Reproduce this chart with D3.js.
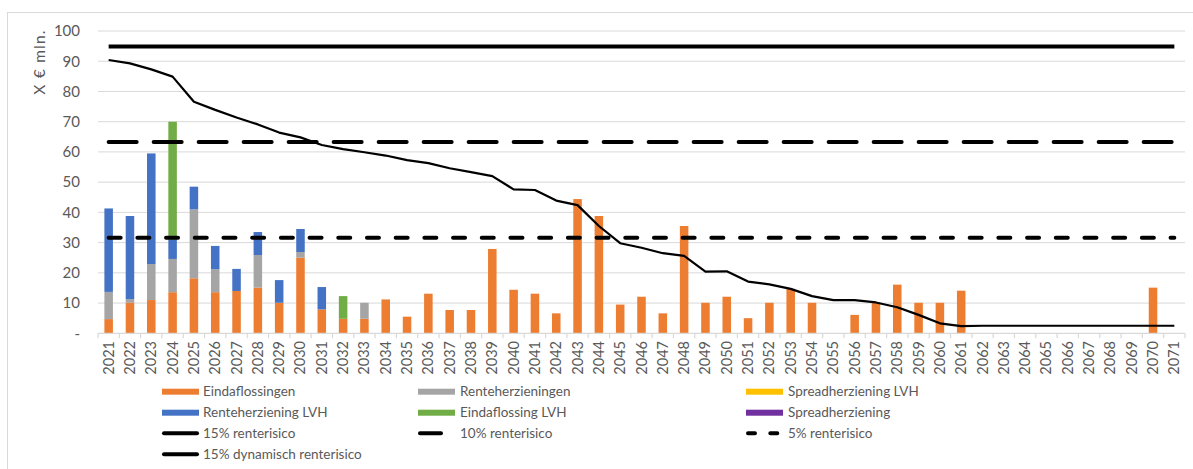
<!DOCTYPE html>
<html>
<head>
<meta charset="utf-8">
<script src="https://cdn.jsdelivr.net/npm/d3@7"></script>
<style>
  body { margin: 0; background: #fff; }
  svg { display: block; }
  text { font-family: Lato, "Open Sans", sans-serif; fill: #595959; }
</style>
</head>
<body>
<svg id="chart" width="1193" height="469"></svg>
<script>
// Categories (years on the x-axis).
const years = d3.range(2021, 2072);

// Stacked bar series, € mln. per year.
const eindaflossingen = [4.7, 10.1, 11.0, 13.6, 18.2, 13.6, 14.0, 15.1, 10.1, 25.0,
  7.9, 4.8, 4.8, 11.2, 5.5, 13.1, 7.7, 7.7, 27.9, 14.4,
  13.1, 6.6, 44.4, 38.8, 9.5, 12.1, 6.6, 35.5, 10.1, 12.1,
  5.0, 10.1, 14.7, 10.1, 0, 6.1, 10.1, 16.1, 10.1, 10.1,
  14.1, 0, 0, 0, 0, 0, 0, 0, 0, 15.1, 0];
const renteherzieningen = [9.0, 1.2, 11.9, 11.0, 22.8, 7.6, 0, 10.8, 0, 1.9,
  0, 0, 5.3, 0, 0, 0, 0, 0, 0, 0,
  0, 0, 0, 0, 0, 0, 0, 0, 0, 0,
  0, 0, 0, 0, 0, 0, 0, 0, 0, 0,
  0, 0, 0, 0, 0, 0, 0, 0, 0, 0, 0];
const spreadherzieningLVH = years.map(() => 0);
const renteherzieningLVH = [27.6, 27.5, 36.6, 6.5, 7.5, 7.7, 7.3, 7.6, 7.5, 7.6,
  7.4, 0, 0, 0, 0, 0, 0, 0, 0, 0,
  0, 0, 0, 0, 0, 0, 0, 0, 0, 0,
  0, 0, 0, 0, 0, 0, 0, 0, 0, 0,
  0, 0, 0, 0, 0, 0, 0, 0, 0, 0, 0];
const eindaflossingLVH = [0, 0, 0, 38.9, 0, 0, 0, 0, 0, 0,
  0, 7.5, 0, 0, 0, 0, 0, 0, 0, 0,
  0, 0, 0, 0, 0, 0, 0, 0, 0, 0,
  0, 0, 0, 0, 0, 0, 0, 0, 0, 0,
  0, 0, 0, 0, 0, 0, 0, 0, 0, 0, 0];
const spreadherziening = years.map(() => 0);

// Risk limit lines.
const risico15 = 94.9;
const risico10 = 63.3;
const risico5 = 31.6;
const dynamisch15 = [90.4, 89.3, 87.3, 84.9, 76.6, 73.9, 71.4, 69.1, 66.4, 64.8,
  62.3, 60.9, 59.9, 58.8, 57.3, 56.3, 54.6, 53.3, 52.0, 47.6,
  47.4, 43.9, 42.4, 35.5, 29.8, 28.3, 26.5, 25.6, 20.4, 20.5,
  17.1, 16.2, 14.7, 12.3, 11.0, 11.0, 10.2, 8.6, 6.1, 3.3,
  2.4, 2.5, 2.5, 2.5, 2.5, 2.5, 2.5, 2.5, 2.5, 2.5, 2.5];

// Y tick labels.
const yTicks = [0, 10, 20, 30, 40, 50, 60, 70, 80, 90, 100];

const barSeries = [
  { name: "Eindaflossingen", values: eindaflossingen, color: "#ED7D31" },
  { name: "Renteherzieningen", values: renteherzieningen, color: "#A5A5A5" },
  { name: "Spreadherziening LVH", values: spreadherzieningLVH, color: "#FFC000" },
  { name: "Renteherziening LVH", values: renteherzieningLVH, color: "#4472C4" },
  { name: "Eindaflossing LVH", values: eindaflossingLVH, color: "#70AD47" },
  { name: "Spreadherziening", values: spreadherziening, color: "#7030A0" }
];

const svg = d3.select("#chart");

// Chart frame (only top and left edges are in view).
svg.append("rect")
  .attr("x", 7.5).attr("y", 12.5)
  .attr("width", 1300).attr("height", 600)
  .attr("fill", "none").attr("stroke", "#d9d9d9");

const x = d3.scaleBand().domain(years).range([98, 1185]).paddingInner(0.6).paddingOuter(0.3);
const xc = d => x(d) + x.bandwidth() / 2;
const y = d3.scaleLinear().domain([0, 100]).range([333.3, 31]);

// Gridlines.
svg.append("g")
  .selectAll("line")
  .data(yTicks.filter(t => t > 0))
  .join("line")
  .attr("x1", 98).attr("x2", 1185)
  .attr("y1", d => y(d)).attr("y2", d => y(d))
  .attr("stroke", "#d9d9d9").attr("stroke-width", 1);

// Y axis labels.
const yAxis = svg.append("g")
  .attr("transform", "translate(88,0)")
  .call(d3.axisLeft(y).tickValues(yTicks).tickSize(0).tickPadding(8)
    .tickFormat(d => d === 0 ? "-" : d));
yAxis.select(".domain").remove();
yAxis.selectAll("text").style("font-size", "15px").attr("fill", "#595959")
  .style("font-family", "Lato, sans-serif");

// Y title.
svg.append("text")
  .attr("transform", "translate(45,62) rotate(-90)")
  .attr("text-anchor", "middle")
  .style("font-size", "15.5px")
  .style("letter-spacing", "1.2px")
  .text("X € mln.");

// Stacked bars.
const table = years.map((yr, i) => {
  const row = { year: yr };
  barSeries.forEach(s => { row[s.name] = s.values[i]; });
  return row;
});
const stacked = d3.stack().keys(barSeries.map(s => s.name))(table);

svg.append("g")
  .selectAll("g")
  .data(stacked)
  .join("g")
  .attr("fill", (d, i) => barSeries[i].color)
  .selectAll("rect")
  .data(d => d.filter(p => p[1] - p[0] > 0))
  .join("rect")
  .attr("x", d => x(d.data.year))
  .attr("width", x.bandwidth())
  .attr("y", d => y(d[1]))
  .attr("height", d => y(d[0]) - y(d[1]));

// X axis: baseline, ticks between categories, rotated labels.
const xAxisG = svg.append("g");
xAxisG.append("line")
  .attr("x1", 98).attr("x2", 1185)
  .attr("y1", y(0)).attr("y2", y(0))
  .attr("stroke", "#d9d9d9").attr("stroke-width", 1.2);
const step = x.step();
xAxisG.selectAll("line.tick")
  .data(d3.range(years.length + 1))
  .join("line")
  .attr("class", "tick")
  .attr("x1", i => 98 + i * step).attr("x2", i => 98 + i * step)
  .attr("y1", y(0)).attr("y2", y(0) + 5)
  .attr("stroke", "#d9d9d9").attr("stroke-width", 1.2);
xAxisG.selectAll("text")
  .data(years)
  .join("text")
  .attr("transform", d => `translate(${xc(d) + 5},341) rotate(-90)`)
  .attr("text-anchor", "end")
  .style("font-size", "14.5px")
  .text(d => d);

// Lines.
const lineGen = d3.line().x((d, i) => xc(years[i])).y(d => y(d));
const constLine = v => years.map(() => v);

svg.append("path")
  .datum(constLine(risico15))
  .attr("d", lineGen)
  .attr("fill", "none").attr("stroke", "#000").attr("stroke-width", 4);

svg.append("path")
  .datum(constLine(risico10))
  .attr("d", lineGen)
  .attr("fill", "none").attr("stroke", "#000").attr("stroke-width", 4)
  .attr("stroke-linecap", "round").attr("stroke-dasharray", "28,17");

svg.append("path")
  .datum(constLine(risico5))
  .attr("d", lineGen)
  .attr("fill", "none").attr("stroke", "#000").attr("stroke-width", 4)
  .attr("stroke-linecap", "round").attr("stroke-dasharray", "12,16.7");

svg.append("path")
  .datum(dynamisch15)
  .attr("d", lineGen)
  .attr("fill", "none").attr("stroke", "#000").attr("stroke-width", 2.2)
  .attr("stroke-linejoin", "round");

// Legend.
const legendItems = [
  { name: "Eindaflossingen", type: "rect", color: "#ED7D31" },
  { name: "Renteherzieningen", type: "rect", color: "#A5A5A5" },
  { name: "Spreadherziening LVH", type: "rect", color: "#FFC000" },
  { name: "Renteherziening LVH", type: "rect", color: "#4472C4" },
  { name: "Eindaflossing LVH", type: "rect", color: "#70AD47" },
  { name: "Spreadherziening", type: "rect", color: "#7030A0" },
  { name: "15% renterisico", type: "line", dash: null },
  { name: "10% renterisico", type: "line", dash: "21,100" },
  { name: "5% renterisico", type: "line", dash: "7,15.3" },
  { name: "15% dynamisch renterisico", type: "line", dash: null }
];
const colX = [162, 418, 746];
const rowY = [391.7, 412.7, 433.3, 454.3];

const leg = svg.append("g")
  .selectAll("g")
  .data(legendItems)
  .join("g")
  .attr("transform", (d, i) => `translate(${colX[i % 3]},${rowY[Math.floor(i / 3)]})`);

leg.filter(d => d.type === "rect").append("rect")
  .attr("x", 0).attr("y", -3).attr("width", 37).attr("height", 6)
  .attr("fill", d => d.color);

leg.filter(d => d.type === "line").append("line")
  .attr("x1", 2).attr("x2", 35).attr("y1", 0).attr("y2", 0)
  .attr("stroke", "#000").attr("stroke-width", 4)
  .attr("stroke-linecap", "round")
  .attr("stroke-dasharray", d => d.dash);

leg.append("text")
  .attr("x", (d, i) => i % 3 === 0 ? 41 : 42)
  .attr("y", 0).attr("dy", "0.35em")
  .style("font-size", "13.5px")
  .text(d => d.name);
</script>
</body>
</html>
